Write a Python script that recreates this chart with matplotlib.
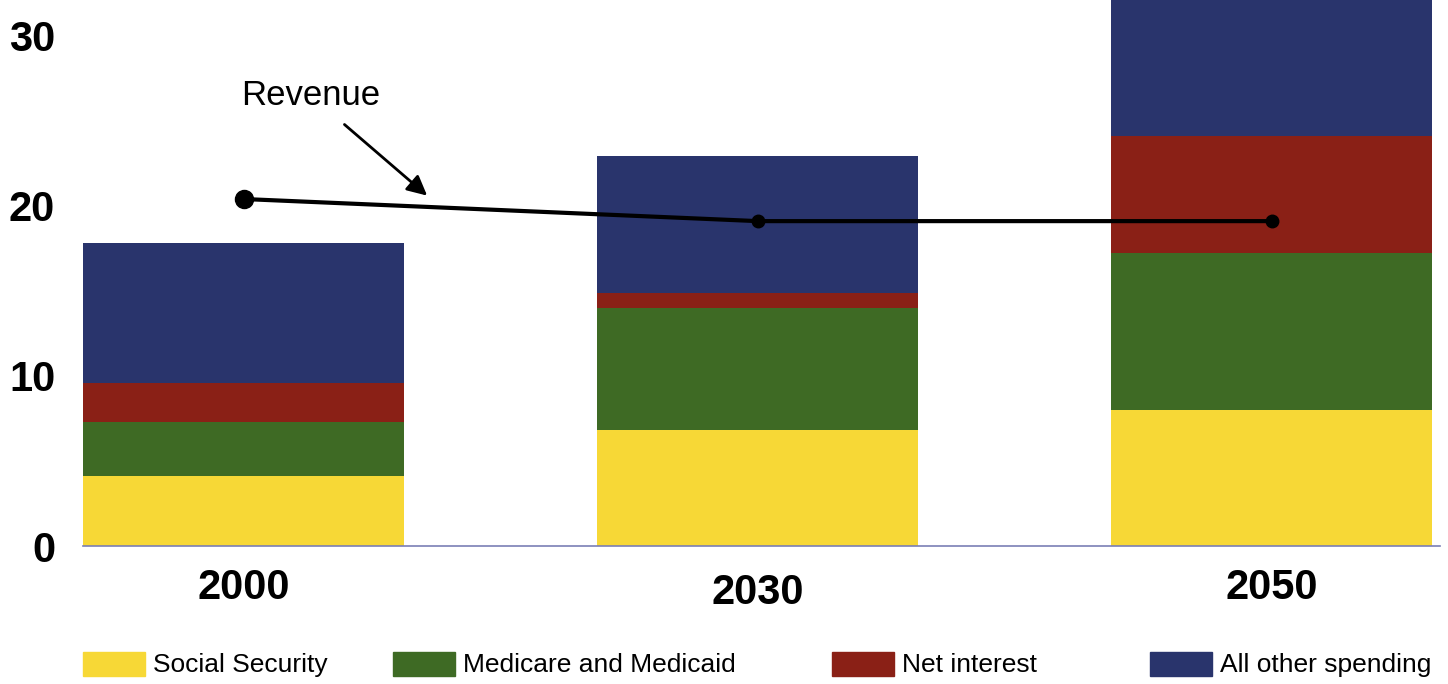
import matplotlib.pyplot as plt
import matplotlib.transforms as mtransforms
from matplotlib.patches import Rectangle
import numpy as np

# ─── DATA ──────────────────────────────────────────────────────────────────
years           = ["2000", "2030", "2050"]
social_security = [4.1, 6.8, 8.0]
medicare        = [3.2, 7.2, 9.2]
net_interest    = [2.3, 0.9, 6.9]
all_other       = [8.2, 8.0, 8.5]
revenue         = [20.4, 19.1, 19.1]

SERIES = [
    ("Social Security",        social_security, "#f7d836"),
    ("Medicare and Medicaid",  medicare,        "#3e6a24"),
    ("Net interest",           net_interest,    "#8a2016"),
    ("All other spending",     all_other,       "#29346c"),
]

plt.rcParams.update({
    "font.family": ["Liberation Sans", "DejaVu Sans"],
})

W, H = 1448, 684

# ─── PLOT ──────────────────────────────────────────────────────────────────
fig = plt.figure(figsize=(W/100, H/100), dpi=100)
ax = fig.add_axes([83/W, 138/H, (1440-83)/W, 546/H])

x = np.arange(len(years))
width = 0.625
bottom = np.zeros(len(years))
for label, vals, color in SERIES:
    ax.bar(x, vals, width, bottom=bottom, color=color, label=label, zorder=2)
    bottom += np.array(vals)

ax.plot(x, revenue, color="black", lw=3, zorder=4)
ax.plot(x[:1], revenue[:1], "o", color="black", ms=13, zorder=5)
ax.plot(x[1:], revenue[1:], "o", color="black", ms=9, zorder=5)

ax.annotate("Revenue", xy=(0.357, 20.6), xytext=(0.13, 26.5),
            fontsize=25, ha="center", va="center",
            arrowprops=dict(arrowstyle="-|>", color="black", lw=2,
                            mutation_scale=30, shrinkA=11, shrinkB=0))

ax.set_xlim(-0.3125, 2.3275)
ax.set_ylim(0, 32.1)
ax.set_yticks([0, 10, 20, 30])
ax.set_xticks(x)
ax.set_xticklabels(years)
for t in ax.get_yticklabels() + ax.get_xticklabels():
    t.set_fontweight("bold")
    t.set_fontsize(30)
ax.tick_params(axis="both", length=0)
ax.tick_params(axis="y", pad=20)
ax.tick_params(axis="x", pad=16)
# middle year label sits a little lower in the original
lbl = ax.get_xticklabels()[1]
lbl.set_transform(lbl.get_transform() + mtransforms.ScaledTranslation(0, -5/100, fig.dpi_scale_trans))

for s in ["top", "right", "left"]:
    ax.spines[s].set_visible(False)
ax.spines["bottom"].set_color("#7a7fb5")
ax.spines["bottom"].set_linewidth(1.2)

# legend row, laid out by hand like the original
patch_left = [83, 393, 832, 1150]
for (label, _, color), px in zip(SERIES, patch_left):
    fig.add_artist(Rectangle((px/W, (H-676)/H), 62/W, 24/H, color=color,
                             transform=fig.transFigure))
    fig.text((px + 70)/W, (H-665)/H, label, fontsize=19, va="center", ha="left")

fig.savefig("out.png", dpi=100)
